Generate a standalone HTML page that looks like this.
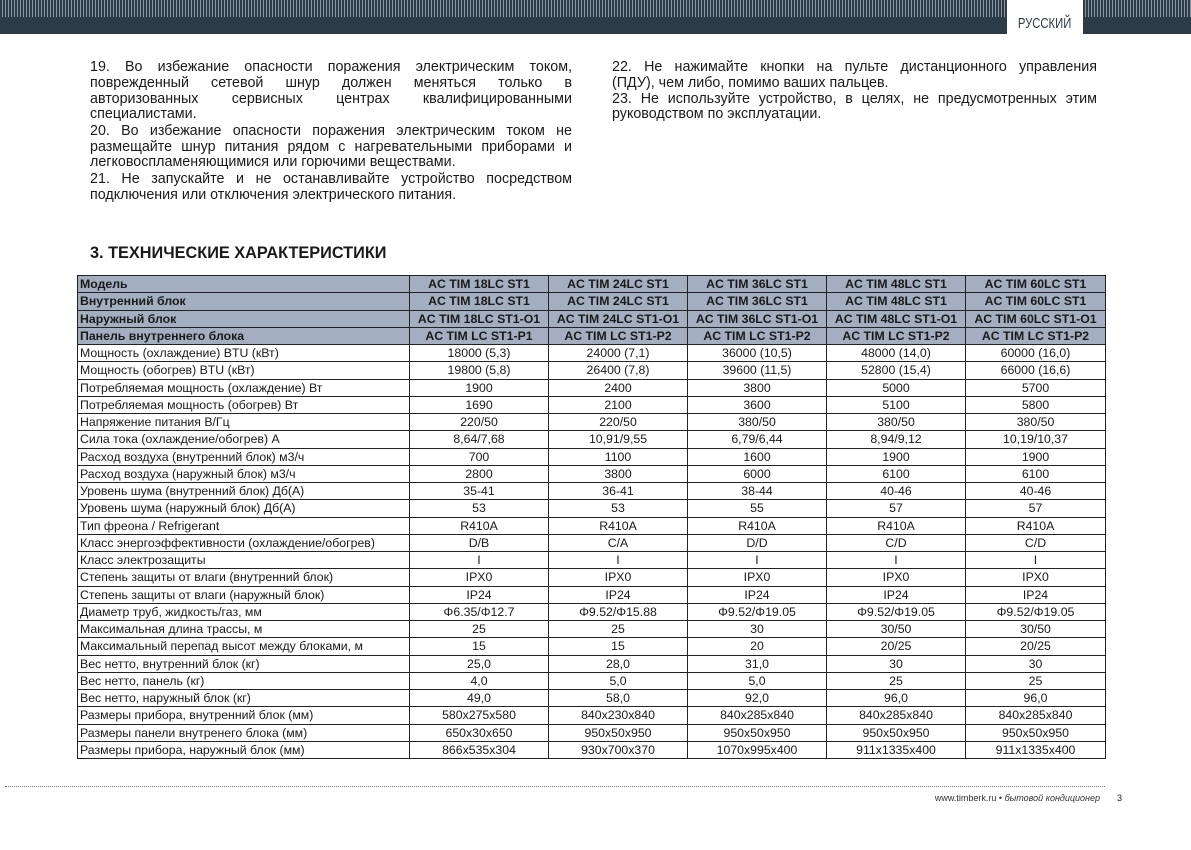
<!DOCTYPE html>
<html><head><meta charset="utf-8"><style>
body{margin:0;width:1191px;height:850px;background:#fff;position:relative;overflow:hidden;font-family:"Liberation Sans",sans-serif;color:#1a1a1a}
.stripes{position:absolute;left:0;top:0;width:1191px;height:17px;background:repeating-linear-gradient(90deg,#2c3b48 0 2px,#8a96a2 2px 3px)}
.band{position:absolute;left:0;top:17px;width:1191px;height:17px;background:#2c3b48}
.lang{position:absolute;left:1007px;top:0;width:76px;height:34px;background:#fff;color:#2c3b48;font-size:15px;text-align:center;line-height:20px;padding-top:14px;box-sizing:border-box}
.lang span{display:inline-block;transform:scaleX(.75)}
.ln{position:absolute;font-size:14.3px;line-height:16px;height:16px;white-space:nowrap;overflow:visible}
.j{text-align:justify;text-align-last:justify;white-space:normal}
.title{position:absolute;left:90px;top:244px;font-size:16.3px;font-weight:bold}
table{position:absolute;left:77px;top:275px;width:1028px;height:484px;border-collapse:collapse;table-layout:fixed;font-size:12.3px}
td{border:1px solid #222;padding:0 2px;line-height:14px;white-space:nowrap;overflow:hidden;text-align:center}
td:first-child{text-align:left}
tr.h td{background:#a3afc0;font-weight:bold}
.dots{position:absolute;left:5px;top:786px;width:1100px;border-top:1px dotted #777}
.foot{position:absolute;left:900px;top:793px;width:200px;text-align:right;font-size:9px;color:#333}
.pg{position:absolute;left:1117px;top:793px;font-size:9px}
</style></head><body>
<div class="stripes"></div><div class="band"></div><div class="lang"><span>РУССКИЙ</span></div>

<div class="ln j" style="left:90px;top:59px;width:482px">19. Во избежание опасности поражения электрическим током,</div>
<div class="ln j" style="left:90px;top:75px;width:482px">поврежденный сетевой шнур должен меняться только в</div>
<div class="ln j" style="left:90px;top:91px;width:482px">авторизованных сервисных центрах квалифицированными</div>
<div class="ln" style="left:90px;top:106px">специалистами.</div>
<div class="ln j" style="left:90px;top:123px;width:482px">20. Во избежание опасности поражения электрическим током не</div>
<div class="ln j" style="left:90px;top:139px;width:482px">размещайте шнур питания рядом с нагревательными приборами и</div>
<div class="ln" style="left:90px;top:154px">легковоспламеняющимися или горючими веществами.</div>
<div class="ln j" style="left:90px;top:171px;width:482px">21. Не запускайте и не останавливайте устройство посредством</div>
<div class="ln" style="left:90px;top:187px">подключения или отключения электрического питания.</div>

<div class="ln j" style="left:612px;top:59px;width:485px">22. Не нажимайте кнопки на пульте дистанционного управления</div>
<div class="ln" style="left:612px;top:75px">(ПДУ), чем либо, помимо ваших пальцев.</div>
<div class="ln j" style="left:612px;top:91px;width:485px">23. Не используйте устройство, в целях, не предусмотренных этим</div>
<div class="ln" style="left:612px;top:106px">руководством по эксплуатации.</div>

<div class="title">3. ТЕХНИЧЕСКИЕ ХАРАКТЕРИСТИКИ</div>

<table>
<colgroup><col style="width:332px"><col style="width:139px"><col style="width:139px"><col style="width:139px"><col style="width:139px"><col style="width:140px"></colgroup>
<tr class="h"><td>Модель</td><td>AC TIM 18LC ST1</td><td>AC TIM 24LC ST1</td><td>AC TIM 36LC ST1</td><td>AC TIM 48LC ST1</td><td>AC TIM 60LC ST1</td></tr>
<tr class="h"><td>Внутренний блок</td><td>AC TIM 18LC ST1</td><td>AC TIM 24LC ST1</td><td>AC TIM 36LC ST1</td><td>AC TIM 48LC ST1</td><td>AC TIM 60LC ST1</td></tr>
<tr class="h"><td>Наружный блок</td><td>AC TIM 18LC ST1-O1</td><td>AC TIM 24LC ST1-O1</td><td>AC TIM 36LC ST1-O1</td><td>AC TIM 48LC ST1-O1</td><td>AC TIM 60LC ST1-O1</td></tr>
<tr class="h"><td>Панель внутреннего блока</td><td>AC TIM LC ST1-P1</td><td>AC TIM LC ST1-P2</td><td>AC TIM LC ST1-P2</td><td>AC TIM LC ST1-P2</td><td>AC TIM LC ST1-P2</td></tr>
<tr><td>Мощность (охлаждение) BTU (кВт)</td><td>18000 (5,3)</td><td>24000 (7,1)</td><td>36000 (10,5)</td><td>48000 (14,0)</td><td>60000 (16,0)</td></tr>
<tr><td>Мощность (обогрев) BTU (кВт)</td><td>19800 (5,8)</td><td>26400 (7,8)</td><td>39600 (11,5)</td><td>52800 (15,4)</td><td>66000 (16,6)</td></tr>
<tr><td>Потребляемая мощность (охлаждение) Вт</td><td>1900</td><td>2400</td><td>3800</td><td>5000</td><td>5700</td></tr>
<tr><td>Потребляемая мощность (обогрев) Вт</td><td>1690</td><td>2100</td><td>3600</td><td>5100</td><td>5800</td></tr>
<tr><td>Напряжение питания В/Гц</td><td>220/50</td><td>220/50</td><td>380/50</td><td>380/50</td><td>380/50</td></tr>
<tr><td>Сила тока (охлаждение/обогрев) А</td><td>8,64/7,68</td><td>10,91/9,55</td><td>6,79/6,44</td><td>8,94/9,12</td><td>10,19/10,37</td></tr>
<tr><td>Расход воздуха (внутренний блок) м3/ч</td><td>700</td><td>1100</td><td>1600</td><td>1900</td><td>1900</td></tr>
<tr><td>Расход воздуха (наружный блок) м3/ч</td><td>2800</td><td>3800</td><td>6000</td><td>6100</td><td>6100</td></tr>
<tr><td>Уровень шума (внутренний блок) Дб(А)</td><td>35-41</td><td>36-41</td><td>38-44</td><td>40-46</td><td>40-46</td></tr>
<tr><td>Уровень шума (наружный блок) Дб(А)</td><td>53</td><td>53</td><td>55</td><td>57</td><td>57</td></tr>
<tr><td>Тип фреона / Refrigerant</td><td>R410A</td><td>R410A</td><td>R410A</td><td>R410A</td><td>R410A</td></tr>
<tr><td>Класс энергоэффективности (охлаждение/обогрев)</td><td>D/B</td><td>C/A</td><td>D/D</td><td>C/D</td><td>C/D</td></tr>
<tr><td>Класс электрозащиты</td><td>I</td><td>I</td><td>I</td><td>I</td><td>I</td></tr>
<tr><td>Степень защиты от влаги (внутренний блок)</td><td>IPX0</td><td>IPX0</td><td>IPX0</td><td>IPX0</td><td>IPX0</td></tr>
<tr><td>Степень защиты от влаги (наружный блок)</td><td>IP24</td><td>IP24</td><td>IP24</td><td>IP24</td><td>IP24</td></tr>
<tr><td>Диаметр труб, жидкость/газ, мм</td><td>Φ6.35/Φ12.7</td><td>Φ9.52/Φ15.88</td><td>Φ9.52/Φ19.05</td><td>Φ9.52/Φ19.05</td><td>Φ9.52/Φ19.05</td></tr>
<tr><td>Максимальная длина трассы, м</td><td>25</td><td>25</td><td>30</td><td>30/50</td><td>30/50</td></tr>
<tr><td>Максимальный перепад высот между блоками, м</td><td>15</td><td>15</td><td>20</td><td>20/25</td><td>20/25</td></tr>
<tr><td>Вес нетто, внутренний блок (кг)</td><td>25,0</td><td>28,0</td><td>31,0</td><td>30</td><td>30</td></tr>
<tr><td>Вес нетто, панель (кг)</td><td>4,0</td><td>5,0</td><td>5,0</td><td>25</td><td>25</td></tr>
<tr><td>Вес нетто, наружный блок (кг)</td><td>49,0</td><td>58,0</td><td>92,0</td><td>96,0</td><td>96,0</td></tr>
<tr><td>Размеры прибора, внутренний блок (мм)</td><td>580x275x580</td><td>840x230x840</td><td>840x285x840</td><td>840x285x840</td><td>840x285x840</td></tr>
<tr><td>Размеры панели внутренего блока (мм)</td><td>650x30x650</td><td>950x50x950</td><td>950x50x950</td><td>950x50x950</td><td>950x50x950</td></tr>
<tr><td>Размеры прибора, наружный блок (мм)</td><td>866x535x304</td><td>930x700x370</td><td>1070x995x400</td><td>911x1335x400</td><td>911x1335x400</td></tr>
</table>

<div class="dots"></div>
<div class="foot">www.timberk.ru • <i>бытовой кондиционер</i></div>
<div class="pg">3</div>
</body></html>
